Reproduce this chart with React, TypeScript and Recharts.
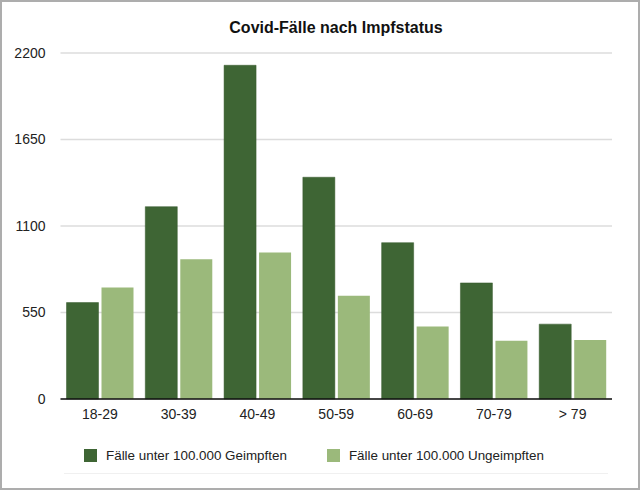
import { BarChart, Bar, XAxis, YAxis, CartesianGrid, Legend } from "recharts";

const ageGroups = ["18-29", "30-39", "40-49", "50-59", "60-69", "70-79", "> 79"];
const vaccinated = [613, 1223, 2122, 1410, 994, 738, 476];
const unvaccinated = [709, 889, 931, 656, 461, 370, 375];
const yTicks = [0, 550, 1100, 1650, 2200];

const DARK = "#3e6534";
const LIGHT = "#9bb97b";
const FONT = "'Liberation Sans', Arial, Helvetica, sans-serif";

const data = ageGroups.map((group, i) => ({
  group,
  geimpft: vaccinated[i],
  ungeimpft: unvaccinated[i],
}));

function LegendContent({ payload }: any) {
  return (
    <div style={{ display: "flex", alignItems: "center", fontFamily: FONT, fontSize: 13.4, color: "#222" }}>
      {(payload || []).map((entry: any, i: number) => (
        <div key={entry.value} style={{ display: "flex", alignItems: "center", marginRight: i === 0 ? 40 : 0 }}>
          <span style={{ width: 13, height: 13, background: entry.color, display: "inline-block", marginRight: 9 }} />
          <span>{entry.value}</span>
        </div>
      ))}
    </div>
  );
}

export default function App() {
  return (
    <div style={{ position: "absolute", left: 0, top: 0, width: 640, height: 490, background: "#fff", fontFamily: FONT }}>
      {/* title */}
      <div style={{ position: "absolute", top: 19, left: 0, width: 640, paddingLeft: 32, boxSizing: "border-box", textAlign: "center", fontSize: 16, fontWeight: "bold", color: "#111" }}>
        Covid-Fälle nach Impfstatus
      </div>

      <BarChart
        width={640}
        height={490}
        data={data}
        margin={{ top: 53, right: 28, bottom: 0, left: 0 }}
        barCategoryGap={6}
        barGap={3}
      >
        <CartesianGrid vertical={false} stroke="#dcdcdc" strokeWidth={1.5} />
        <XAxis
          dataKey="group"
          height={91}
          tickLine={false}
          tickSize={0}
          tickMargin={10}
          axisLine={{ stroke: "#111", strokeWidth: 1.5 }}
          tick={{ fill: "#222", fontSize: 14, fontFamily: FONT }}
          interval={0}
        />
        <YAxis
          width={60.5}
          domain={[0, 2200]}
          ticks={yTicks}
          axisLine={false}
          tickLine={false}
          tickSize={0}
          tickMargin={15}
          tick={{ fill: "#222", fontSize: 14, fontFamily: FONT }}
        />
        <Legend
          layout="horizontal"
          verticalAlign="middle"
          align="center"
          content={<LegendContent />}
          wrapperStyle={{ top: 448, left: 84, width: 520, height: 14 }}
        />
        <Bar dataKey="geimpft" name="Fälle unter 100.000 Geimpften" fill={DARK} stroke="#34582b" strokeWidth={0.5} isAnimationActive={false} />
        <Bar dataKey="ungeimpft" name="Fälle unter 100.000 Ungeimpften" fill={LIGHT} isAnimationActive={false} />
      </BarChart>

      {/* faint rule under the legend */}
      <div style={{ position: "absolute", left: 64, top: 473, width: 544, height: 0, borderTop: "1px solid #f0f0f0" }} />
      {/* frame */}
      <div style={{ position: "absolute", left: 0, top: 0, width: 640, height: 490, boxSizing: "border-box", border: "2px solid #adadad", pointerEvents: "none" }} />
    </div>
  );
}
